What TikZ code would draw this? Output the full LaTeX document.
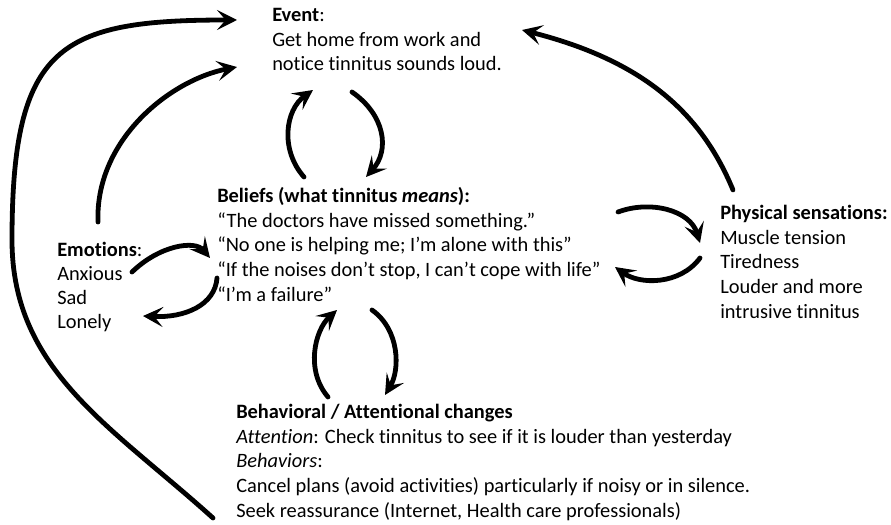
\documentclass[tikz,border=0pt]{standalone}
\usepackage{fontspec}
\setmainfont[Ligatures=NoCommon]{Carlito}
\usetikzlibrary{arrows.meta}
\begin{document}
\begin{tikzpicture}[x=0.75pt,y=-0.75pt,
    txt/.style={anchor=base west,align=left,inner sep=0pt,font=\fontsize{15.3}{18.4}\selectfont},
    arr/.style={line width=3.6pt,line cap=round,-{Stealth[length=15pt,width=15pt,inset=6.5pt]}}]
			\useasboundingbox (0,0) rectangle (891,524);
			% blocks of text (placed by the baseline of their last line)
			\node[txt] (event) at (272,71) {\textbf{Event}:\\Get home from work and\\notice tinnitus sounds loud.};
			\node[txt] (beliefs) at (217,301) {\textbf{Beliefs (what tinnitus \textit{means}):}\\“The doctors have missed something.”\\“No one is helping me; I’m alone with this”\\“If the noises don’t stop, I can’t cope with life”\\“I’m a failure”};
			\node[txt,font=\fontsize{15.3}{17.8}\selectfont] (emotions) at (57,328) {\textbf{Emotions}:\\Anxious\\Sad\\Lonely};
			\node[txt] (physical) at (720,318) {\textbf{Physical sensations:}\\Muscle tension\\Tiredness\\Louder and more\\intrusive tinnitus};
			\node[txt] (behav) at (236,517) {\textbf{Behavioral / Attentional changes}\\\textit{Attention}: Check tinnitus to see if it is louder than yesterday\\\textit{Behaviors}:\\Cancel plans (avoid activities) particularly if noisy or in silence.\\Seek reassurance (Internet, Health care professionals)};
			% arrow ends
			\coordinate (behavOut) at (213,518);
			\coordinate (eventInA) at (237,20);
			\coordinate (emoOut) at (98,222);
			\coordinate (eventInB) at (237,67);
			\coordinate (eventOut) at (352,92);
			\coordinate (beliefsIn) at (366,177);
			\coordinate (beliefsOut) at (304,177);
			\coordinate (eventInC) at (313,90);
			\coordinate (physOut) at (733,190);
			\coordinate (eventInD) at (522,30);
			\coordinate (beliefsOutR) at (618,212);
			\coordinate (physIn) at (700,243);
			\coordinate (physOutB) at (700,258);
			\coordinate (beliefsInR) at (615,267);
			\coordinate (emoOutB) at (132,272);
			\coordinate (beliefsInL) at (210,258);
			\coordinate (beliefsOutL) at (217,278);
			\coordinate (emoIn) at (143,316);
			\coordinate (beliefsOutB) at (372,310);
			\coordinate (behavIn) at (385,395);
			\coordinate (behavOutT) at (328,397);
			\coordinate (beliefsInB) at (337,310);
			% arrows
			\draw[arr] (behavOut) .. controls (111,426) and (12,370) .. (12,240) .. controls (12,45) and (60,20) .. (eventInA);
			\draw[arr] (emoOut) .. controls (95,140) and (170,80) .. (eventInB);
			\draw[arr] (eventOut) .. controls (385,115) and (390,150) .. (beliefsIn);
			\draw[arr] (beliefsOut) .. controls (280,150) and (285,110) .. (eventInC);
			\draw[arr] (physOut) .. controls (700,110) and (640,60) .. (eventInD);
			\draw[arr] (beliefsOutR) .. controls (650,200) and (690,210) .. (physIn);
			\draw[arr] (physOutB) .. controls (680,285) and (640,285) .. (beliefsInR);
			\draw[arr] (emoOutB) .. controls (160,245) and (195,240) .. (beliefsInL);
			\draw[arr] (beliefsOutL) .. controls (215,305) and (185,318) .. (emoIn);
			\draw[arr] (beliefsOutB) .. controls (400,330) and (400,370) .. (behavIn);
			\draw[arr] (behavOutT) .. controls (305,370) and (315,330) .. (beliefsInB);
		\end{tikzpicture}
\end{document}
